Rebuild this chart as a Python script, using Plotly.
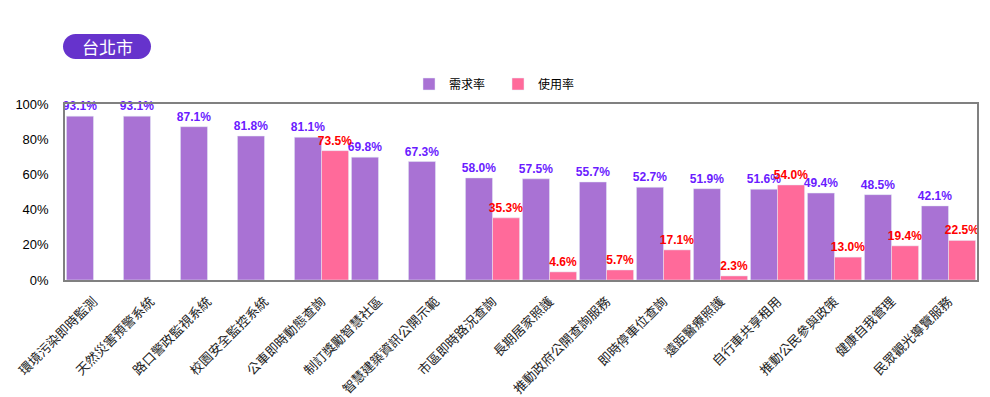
import plotly.graph_objects as go

categories = ["環境污染即時監測", "天然災害預警系統", "路口警政監視系統", "校園安全監控系統",
              "公車即時動態查詢", "制訂獎勵智慧社區", "智慧建築資訊公開示範", "市區即時路況查詢",
              "長期居家照護", "推動政府公開查詢服務", "即時停車位查詢", "遠距醫療照護",
              "自行車共享租用", "推動公民參與政策", "健康自我管理", "民眾觀光導覽服務"]
demand = [93.1, 93.1, 87.1, 81.8, 81.1, 69.8, 67.3, 58.0, 57.5, 55.7, 52.7, 51.9, 51.6, 49.4, 48.5, 42.1]
usage = [None, None, None, None, 73.5, None, None, 35.3, 4.6, 5.7, 17.1, 2.3, 54.0, 13.0, 19.4, 22.5]
y_ticks = [0, 20, 40, 60, 80, 100]
y_tick_labels = ["0%", "20%", "40%", "60%", "80%", "100%"]

CJK = "Noto Sans CJK TC, Liberation Sans, sans-serif"
LAT = "Liberation Sans, Arial, sans-serif"

fig = go.Figure()
fig.add_trace(go.Bar(
    x=categories, y=demand, name="需求率", marker_color="#A972D4",
    texttemplate="%{y:.1f}%", textposition="outside", cliponaxis=False,
    constraintext="none",
    textfont=dict(color="#6A1BFF", size=12, family=LAT, weight="bold"),
))
fig.add_trace(go.Bar(
    x=categories, y=usage, name="使用率", marker_color="#FF6A9A",
    texttemplate="%{y:.1f}%", textposition="outside", cliponaxis=False,
    constraintext="none",
    textfont=dict(color="#FF0000", size=12, family=LAT, weight="bold"),
))

k = 0.5523
x0, x1, y0, y1, r = -2, 86, 45, 70, 12.5
path = (f"M {x0+r},{y0} L {x1-r},{y0} "
        f"C {x1-r+k*r},{y0} {x1},{y0+r-k*r} {x1},{y0+r} "
        f"C {x1},{y0+r+k*r} {x1-r+k*r},{y1} {x1-r},{y1} "
        f"L {x0+r},{y1} "
        f"C {x0+r-k*r},{y1} {x0},{y1-r+k*r} {x0},{y1-r} "
        f"C {x0},{y1-r-k*r} {x0+r-k*r},{y0} {x0+r},{y0} Z")
fig.add_shape(type="path", path=path, xref="paper", yref="paper",
              xsizemode="pixel", ysizemode="pixel", xanchor=0, yanchor=1,
              fillcolor="#6633CC", line=dict(width=0))
fig.add_annotation(text="台北市", xref="paper", yref="paper",
                   x=(107 - 65) / 912, y=1 + (104 - 46.5) / 176,
                   xanchor="center", yanchor="middle", showarrow=False,
                   font=dict(color="white", size=17, family=CJK))

fig.update_layout(
    width=990, height=397,
    margin=dict(l=65, r=13, t=104, b=117, pad=0, autoexpand=False),
    paper_bgcolor="white", plot_bgcolor="white",
    barmode="group", bargap=0.05, bargroupgap=0,
    showlegend=True,
    legend=dict(orientation="h", x=(409 - 65) / 912, xanchor="left", y=1 + 20 / 176, yanchor="middle",
                font=dict(size=12, family=CJK, color="#000000"), entrywidth=44,
                bgcolor="rgba(0,0,0,0)"),
    font=dict(family=CJK),
)
fig.update_xaxes(showline=True, linecolor="#808080", linewidth=1.5, mirror=True,
                 tickangle=-45, tickfont=dict(size=13, family=CJK, color="#222222"),
                 showgrid=False, ticks="", automargin=False, ticklabelstandoff=7)
fig.update_yaxes(range=[0, 100], tickvals=y_ticks, ticktext=y_tick_labels, showline=True,
                 linecolor="#808080", linewidth=1.5, mirror=True, showgrid=False,
                 zeroline=False, tickfont=dict(size=13, family=LAT, color="#000000"),
                 ticks="", automargin=False, ticklabelstandoff=12)

fig.write_html("out.html", config={"displayModeBar": False},
               post_script="document.body.style.margin='0';")
